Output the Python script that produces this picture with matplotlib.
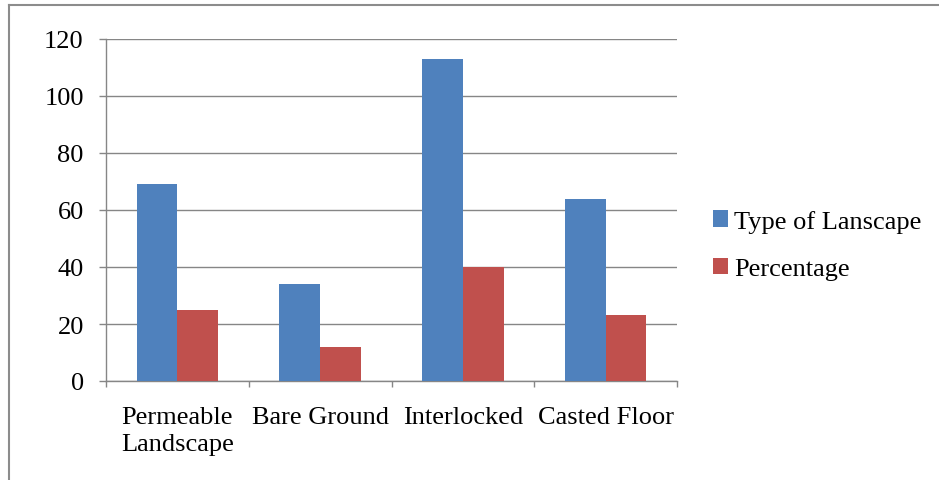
import matplotlib
matplotlib.use("Agg")
import matplotlib.pyplot as plt
import numpy as np
from matplotlib.lines import Line2D

categories = ["Permeable\nLandscape", "Bare Ground", "Interlocked", "Casted Floor"]
landscape_type = [69, 34, 113, 64]
percentage = [25, 12, 40, 23]
series_names = ["Type of Lanscape", "Percentage"]
y_ticks = [0, 20, 40, 60, 80, 100, 120]

plt.rcParams["font.family"] = ["Liberation Serif", "DejaVu Serif"]

W, H = 939, 481
fig = plt.figure(figsize=(W / 100, H / 100), dpi=100)
ax = fig.add_axes([106 / W, 1 - 382 / H, (677 - 106) / W, (382 - 40) / H])

grid_col = "#868686"
blue = "#4F81BD"
red = "#C0504D"
fs = 19

x = np.arange(len(categories))
bw = 1 / 3.5
ax.bar(x - bw / 2, landscape_type, width=bw, color=blue, label=series_names[0], zorder=3)
ax.bar(x + bw / 2, percentage, width=bw, color=red, label=series_names[1], zorder=3)

ax.set_xlim(-0.5, len(categories) - 0.5)
ax.set_ylim(0, 120)
ax.set_yticks(y_ticks)
ax.set_yticklabels([str(v) for v in y_ticks], fontsize=fs)
ax.yaxis.grid(True, color=grid_col, linewidth=1.0, zorder=0)

ax.set_xticks(x)
ax.set_xticklabels(categories, fontsize=fs, linespacing=1.3)
ax.tick_params(axis="x", length=0, pad=18)
ax.tick_params(axis="y", length=5, width=1, color=grid_col, pad=11)

# category boundary ticks on the x axis
ax.set_xticks(np.arange(len(categories) + 1) - 0.5, minor=True)
ax.tick_params(axis="x", which="minor", length=4.5, width=1, color=grid_col)

for s in ["top", "right"]:
    ax.spines[s].set_visible(False)
for s in ["left", "bottom"]:
    ax.spines[s].set_color(grid_col)
    ax.spines[s].set_linewidth(1.0)

leg = fig.legend(loc="center left", bbox_to_anchor=(713 / W, 1 - 246 / H),
                 frameon=False, fontsize=fs, handlelength=0.58, handleheight=0.58,
                 handletextpad=0.22, labelspacing=0.95, borderaxespad=0, borderpad=0)

# chart frame (top and left edges)
fig.add_artist(Line2D([8.5 / W, 1], [1 - 5.5 / H, 1 - 5.5 / H], color="#8c8c8c", linewidth=1.5,
                      transform=fig.transFigure))
fig.add_artist(Line2D([8.5 / W, 8.5 / W], [0, 1 - 5.5 / H], color="#8c8c8c", linewidth=1.5,
                      transform=fig.transFigure))

fig.savefig("out.png", dpi=100)
